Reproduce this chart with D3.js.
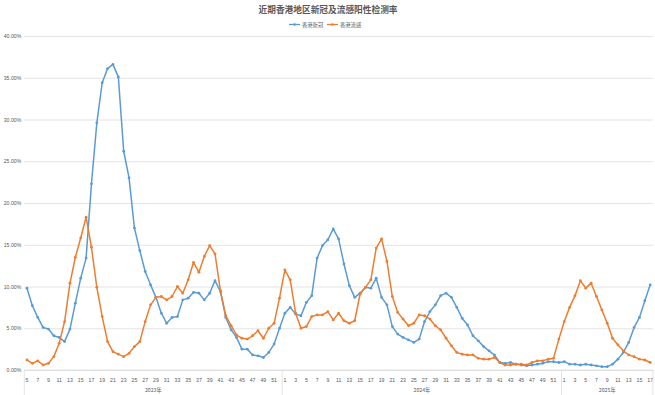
<!DOCTYPE html>
<html><head><meta charset="utf-8">
<script src="https://cdn.jsdelivr.net/npm/d3@7"></script>
<style>
html,body{margin:0;padding:0;background:#fff;}
svg{display:block;font-family:"Noto Sans CJK SC","Noto Sans",sans-serif;}
</style></head>
<body>
<svg id="c" width="655" height="395"></svg>
<script>
const title = "近期香港地区新冠及流感阳性检测率";
const seriesNames = ["香港新冠", "香港流感"];
const years = ["2023年", "2024年", "2025年"];
const weeks2023 = d3.range(5, 53);
const weeks2024 = d3.range(1, 53);
const weeks2025 = d3.range(1, 18);
const yTicks = [0, 5, 10, 15, 20, 25, 30, 35, 40];

const covid2023 = [9.8,7.7,6.3,5.1,4.9,4.1,3.9,3.4,4.9,8.0,11.0,13.4,22.3,29.6,34.4,36.1,36.6,35.1,26.2,23.0,
  17.0,14.3,11.8,10.2,8.7,6.8,5.6,6.3,6.4,8.4,8.6,9.3,9.2,8.4,9.2,10.7,9.4,6.3,4.8,3.9,2.5,2.5,1.8,1.7,1.5,2.1,3.1,5.0];
const flu2023 = [1.2,0.8,1.1,0.6,0.8,1.6,3.2,5.8,10.4,13.5,15.8,18.3,14.7,9.9,6.4,3.4,2.2,1.9,1.6,2.0,
  2.8,3.4,5.8,7.8,8.7,8.8,8.4,8.8,10.0,9.2,10.8,12.9,11.7,13.6,14.9,13.9,9.5,6.5,5.3,4.2,3.8,3.7,4.1,4.7,3.8,5.0,5.6,8.6];
const covid2024 = [6.8,7.5,6.7,6.5,8.1,8.9,13.4,14.9,15.6,16.9,15.7,12.7,10.1,8.7,9.2,9.9,9.8,11.0,8.7,7.8,
  5.2,4.3,3.9,3.6,3.3,3.7,5.8,7.0,7.8,8.9,9.2,8.7,7.5,6.2,5.4,4.1,3.5,2.8,2.3,1.8,0.9,0.8,0.9,0.7,0.6,0.5,0.6,0.7,0.8,1.0,1.0,0.9];
const flu2024 = [12.0,10.8,6.8,5.0,5.2,6.4,6.6,6.6,7.0,6.0,6.8,5.9,5.6,5.9,9.1,9.9,10.8,14.6,15.7,13.0,
  8.8,6.9,6.1,5.3,5.6,6.6,6.5,6.1,5.3,4.8,3.8,2.9,2.1,1.9,1.8,1.8,1.4,1.3,1.3,1.5,0.9,0.6,0.6,0.7,0.7,0.6,0.9,1.1,1.1,1.3,1.4,3.7];
const covid2025 = [1.0,0.7,0.7,0.6,0.7,0.6,0.5,0.4,0.4,0.7,1.3,2.1,3.3,5.1,6.3,8.3,10.2];
const flu2025 = [5.8,7.5,8.9,10.7,9.8,10.4,8.8,7.2,5.6,3.8,3.0,2.3,1.8,1.6,1.3,1.2,0.9];

const weekGroups = [weeks2023, weeks2024, weeks2025];
const cats = [];
weekGroups.forEach((ws, gi) => ws.forEach(w => cats.push({year: gi, week: w, key: gi + "-" + w})));
const covid = covid2023.concat(covid2024, covid2025);
const flu = flu2023.concat(flu2024, flu2025);
const series = [
  {name: seriesNames[0], values: covid, color: "#5B9BD5"},
  {name: seriesNames[1], values: flu, color: "#ED7D31"}
];

const svg = d3.select("#c");
const L = 24.3, R = 652.9, T = 36, B = 370;
const x = d3.scaleBand().domain(cats.map(c => c.key)).range([L, R]);
const xc = k => x(k) + x.bandwidth() / 2;
const y = d3.scaleLinear().domain([0, 40]).range([B, T]);

// title
svg.append("text").attr("x", 328).attr("y", 13).attr("text-anchor", "middle")
  .attr("font-size", 8.7).attr("font-weight", "bold").attr("fill", "#595959").text(title);

// legend
const lg = svg.append("g");
[[289, 302], [327, 340]].forEach((p, i) => {
  lg.append("line").attr("x1", p[0]).attr("x2", p[0] + 11).attr("y1", 24.5).attr("y2", 24.5)
    .attr("stroke", series[i].color).attr("stroke-width", 1.3);
  lg.append("circle").attr("cx", p[0] + 5.5).attr("cy", 24.5).attr("r", 1.3).attr("fill", series[i].color);
  lg.append("text").attr("x", p[1]).attr("y", 26.5).attr("font-size", 5.3).attr("fill", "#595959").text(series[i].name);
});

// gridlines + y labels
const yAxis = d3.axisLeft(y).tickValues(yTicks).tickSize(-(R - L)).tickPadding(3)
  .tickFormat(d => d.toFixed(2) + "%");
const gy = svg.append("g").attr("transform", `translate(${L},0)`).call(yAxis);
gy.select(".domain").remove();
gy.selectAll(".tick line").attr("stroke", "#d9d9d9").attr("stroke-width", 0.75);
gy.selectAll(".tick text").attr("font-size", 5.2).attr("fill", "#595959").attr("font-family", "Liberation Sans, sans-serif");

// x axis baseline
svg.append("line").attr("x1", L).attr("x2", R).attr("y1", B).attr("y2", B)
  .attr("stroke", "#d9d9d9").attr("stroke-width", 0.75);

// week labels
const gx = svg.append("g").attr("transform", `translate(0,${B})`);
gx.selectAll("text.wk").data(cats.filter((c, i) => i % 2 === 0)).join("text")
  .attr("class", "wk").attr("x", d => xc(d.key)).attr("y", 11.5).attr("text-anchor", "middle")
  .attr("font-size", 5.2).attr("fill", "#595959").attr("font-family", "Liberation Sans, sans-serif")
  .text(d => d.week);

// year separators & labels
let start = 0;
const bounds = [];
weekGroups.forEach((ws, gi) => {
  const first = cats[start], last = cats[start + ws.length - 1];
  const x0 = x(first.key), x1 = x(last.key) + x.bandwidth();
  bounds.push(x0);
  if (gi === weekGroups.length - 1) bounds.push(x1);
  gx.append("text").attr("x", (x0 + x1) / 2).attr("y", 21.5).attr("text-anchor", "middle")
    .attr("font-size", 5.2).attr("fill", "#595959").text(years[gi]);
  start += ws.length;
});
gx.selectAll("line.sep").data(bounds).join("line").attr("class", "sep")
  .attr("x1", d => d).attr("x2", d => d).attr("y1", 0).attr("y2", 25)
  .attr("stroke", "#d9d9d9").attr("stroke-width", 0.75);

// lines
const line = d3.line().x((d, i) => xc(cats[i].key)).y(d => y(d));
series.forEach(s => {
  svg.append("path").datum(s.values).attr("d", line).attr("fill", "none")
    .attr("stroke", s.color).attr("stroke-width", 1.5).attr("stroke-linejoin", "round");
  svg.append("g").selectAll("circle").data(s.values).join("circle")
    .attr("cx", (d, i) => xc(cats[i].key)).attr("cy", d => y(d)).attr("r", 1.4).attr("fill", s.color);
});
</script>
</body></html>
